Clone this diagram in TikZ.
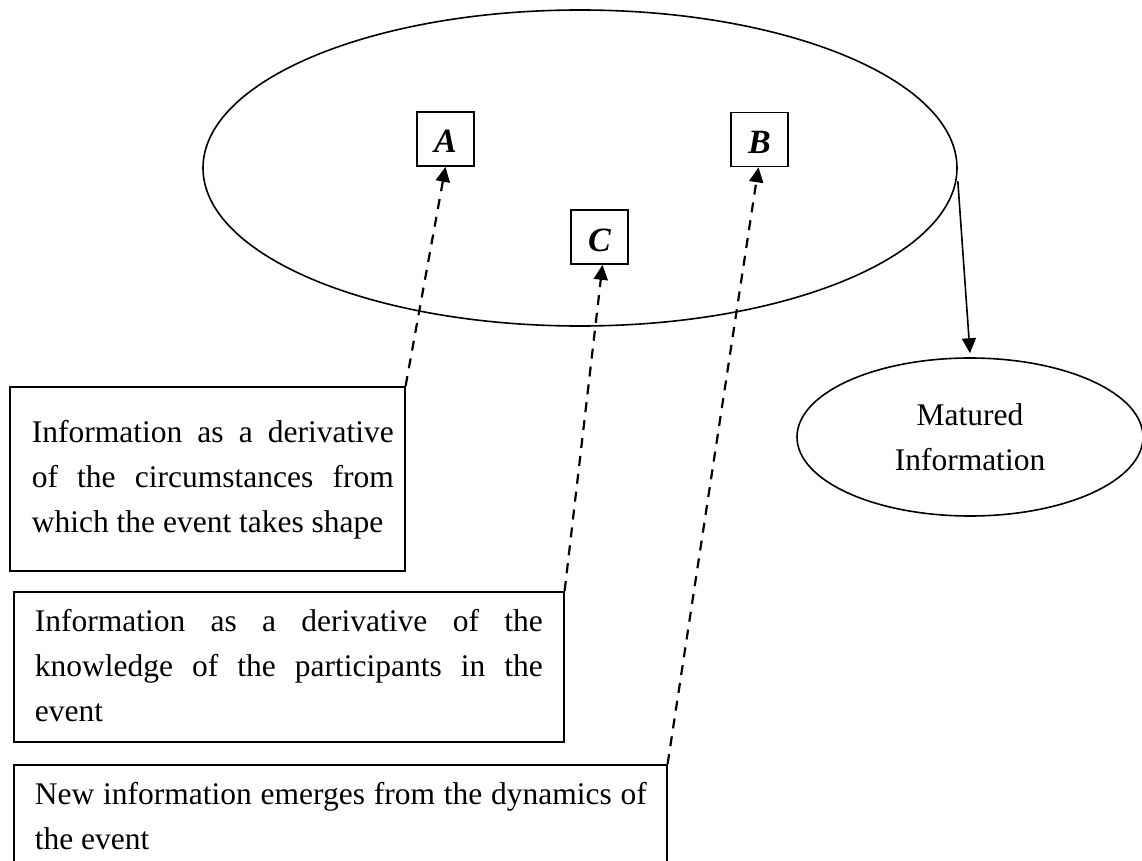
\documentclass[tikz,border=0pt]{standalone}
\usepackage{fontspec}
\setmainfont{Liberation Serif}
\usetikzlibrary{arrows.meta,shapes.geometric}
\setlength\parindent{0pt}
\tolerance=10000
\hbadness=10000
\begin{document}
\begin{tikzpicture}[x=1pt,y=-1pt,
  line width=1.6pt,
  txt/.style={font=\fontsize{31.5}{45}\selectfont},
  frame/.style={draw, rectangle, inner sep=0pt, anchor=north west},
  letterbox/.style={draw, rectangle, inner sep=0pt, minimum width=57pt, minimum height=54pt,
    font=\fontsize{34}{40}\selectfont\bfseries\itshape, text height=28pt, text depth=0pt},
  desc/.style={txt, anchor=north west, inner sep=0pt, align=justify},
  feed/.style={line width=2.2pt, dash pattern=on 10pt off 8pt, -{Triangle[length=15pt,width=14pt]}},
  flow/.style={line width=1.6pt, -{Triangle[length=15pt,width=14pt]}}
]
\useasboundingbox (0,0) rectangle (1142,861);
\fill[white] (0,0) rectangle (1142,861);
\clip (0,0) rectangle (1142,861);

% the event and its three sources of information
\node[draw, ellipse, minimum width=754pt, minimum height=316pt, inner sep=0pt] (E) at (580,168) {};
\node[letterbox] (A) at (445.5,139) {A};
\node[letterbox] (B) at (759.5,139.5) {B};
\node[letterbox] (C) at (599.5,237) {C};

% outcome
\node[draw, ellipse, minimum width=346pt, minimum height=158pt, inner sep=0pt, txt, align=center]
  (M) at (970,437) {Matured\\Information};

% description frames
\node[frame, minimum width=395pt, minimum height=184pt] (b1) at (9,386) {};
\node[frame, minimum width=550pt, minimum height=150pt] (b2) at (13,591) {};
\node[frame, minimum width=653pt, minimum height=140pt] (b3) at (13,764) {};

\node[desc, text width=362pt] (t1) at (31,410.5)
  {\strut Information as a derivative\linebreak of the circumstances from\linebreak which the event takes shape};
\node[desc, text width=508pt] (t2) at (34,599.5)
  {\strut Information as a derivative of the\linebreak knowledge of the participants in the\linebreak event};
\node[desc, text width=612pt] (t3) at (34,772.5)
  {\strut New information emerges from the dynamics of\linebreak the event};

% connectors
\draw[feed] (b1.north east) -- (A.south);
\draw[feed] (b2.north east) -- ([xshift=3pt]C.south);
\draw[feed] (b3.north east) -- ([xshift=-1pt]B.south);
\draw[flow] ([yshift=-13pt]E.east) -- ([yshift=4pt]M.north);
\end{tikzpicture}
\end{document}
